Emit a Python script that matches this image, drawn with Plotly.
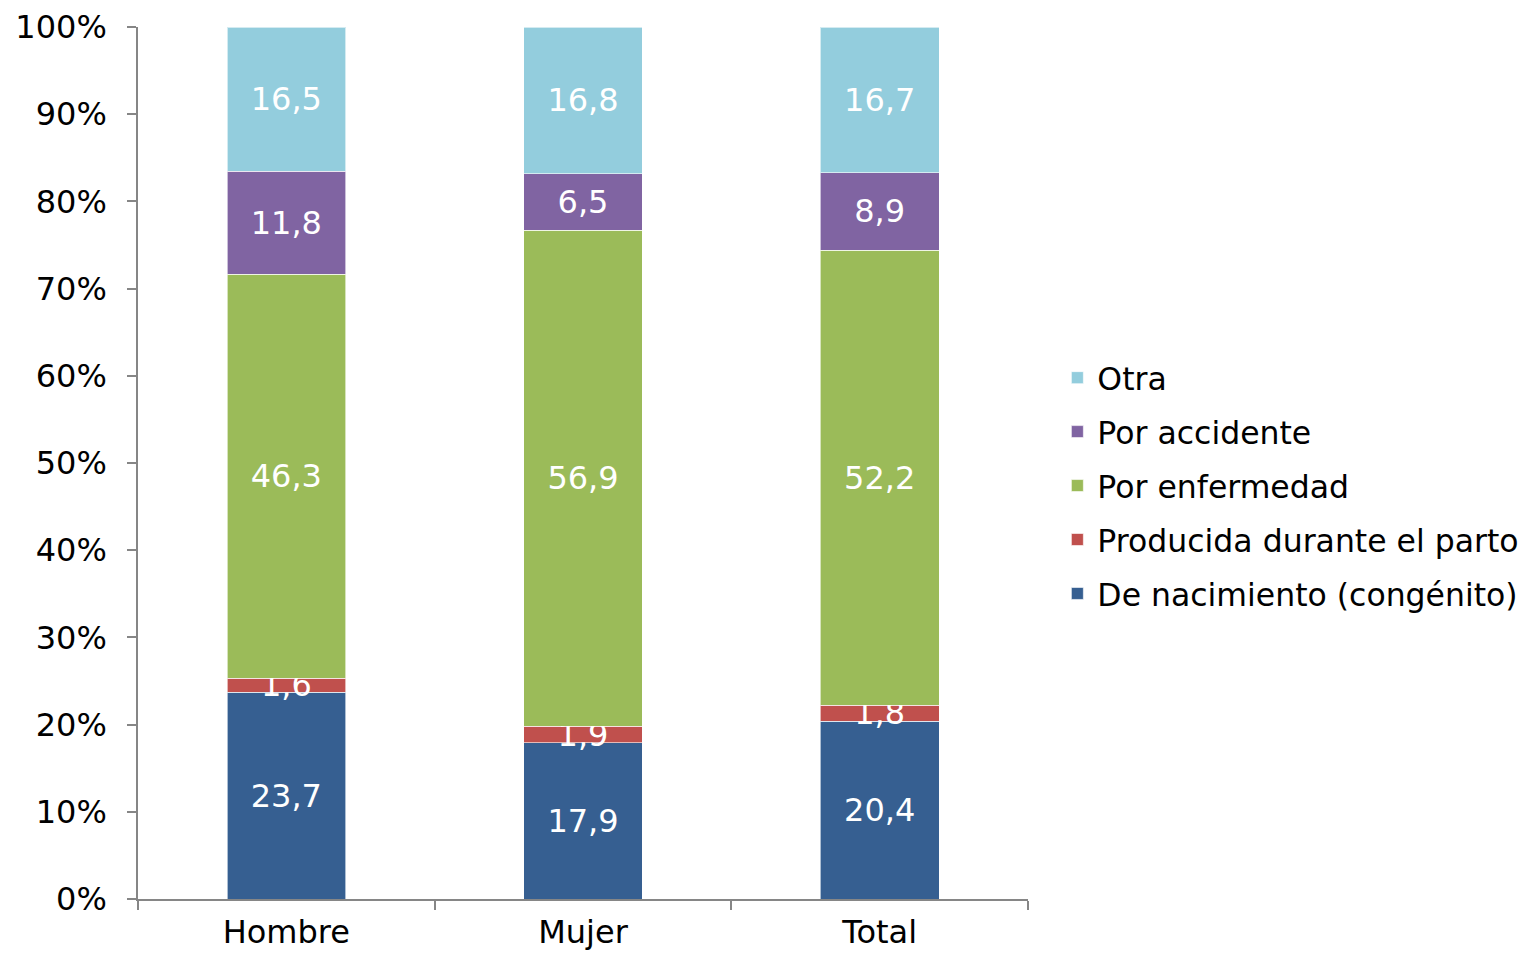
import plotly.graph_objects as go

# --- DATA ---
grupos = ["Hombre", "Mujer", "Total"]
congenito = [23.7, 17.9, 20.4]
parto = [1.6, 1.9, 1.8]
enfermedad = [46.3, 56.9, 52.2]
accidente = [11.8, 6.5, 8.9]
otra = [16.5, 16.8, 16.7]
ticks_y = list(range(0, 101, 10))

series = [
    ("De nacimiento (congénito)", congenito, "#365F91"),
    ("Producida durante el parto", parto, "#C0504D"),
    ("Por enfermedad", enfermedad, "#9BBB59"),
    ("Por accidente", accidente, "#8064A2"),
    ("Otra", otra, "#93CDDD"),
]

FONT = "DejaVu Sans"

fig = go.Figure()
for i, (name, vals, color) in enumerate(series):
    fig.add_trace(go.Bar(
        x=grupos, y=vals, name=name, legendgroup=name,
        legendrank=len(series) - i,  # legend lists "Otra" first
        marker=dict(color=color, line=dict(color="rgba(255,255,255,0.6)", width=1)),
        width=0.4,
        text=[f"{v:.1f}".replace(".", ",") for v in vals],
        textposition="inside", insidetextanchor="middle", textangle=0,
        textfont=dict(color="white", size=32, family=FONT),
    ))

# page body adds an 8px offset, so the figure is a bit smaller than the window
fig.update_layout(
    barmode="stack",
    barnorm="percent",
    width=1522, height=951,
    margin=dict(l=130, r=502, t=19, b=60, autoexpand=False),
    plot_bgcolor="white", paper_bgcolor="white",
    font=dict(family=FONT, size=32, color="black"),
    uniformtext=dict(minsize=32, mode="show"),
    legend=dict(x=1.033, xanchor="left", y=0.474, yanchor="middle",
                traceorder="grouped", tracegroupgap=10,
                font=dict(size=31.5, family=FONT)),
    showlegend=True,
)
fig.update_yaxes(range=[0, 100], tickmode="array", tickvals=ticks_y,
                 ticktext=[f"{t}%" for t in ticks_y], automargin=False,
                 showgrid=False, showline=True, linecolor="#868686", linewidth=1.5,
                 ticks="outside", ticklen=9, tickcolor="#868686", tickwidth=1.5,
                 ticklabelstandoff=14, zeroline=False)
fig.update_xaxes(showline=True, linecolor="#868686", linewidth=1.5, automargin=False,
                 ticks="outside", tickson="boundaries", ticklen=9,
                 tickcolor="#868686", tickwidth=1.5, showgrid=False,
                 ticklabelstandoff=4)

fig.write_html("out.html")
